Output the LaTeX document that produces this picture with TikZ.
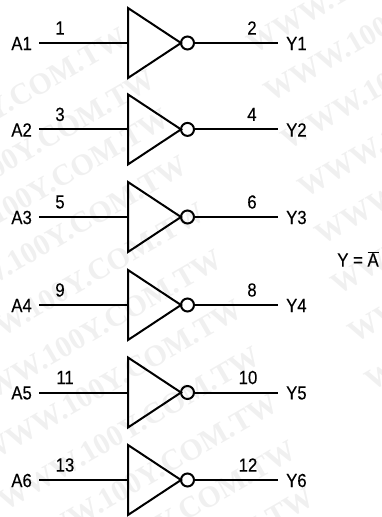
\documentclass[tikz,border=0pt]{standalone}
\usepackage{fontspec}
\setmainfont{Liberation Sans}[FakeBold=0.25]
\newfontfamily\wmfont{Liberation Serif Bold}
\tikzset{
  wire/.style={line width=2pt},
  gatebody/.style={line width=2pt,line join=miter},
  bubble/.style={circle,draw,line width=2pt,minimum size=13pt,inner sep=0pt},
  lab/.style={inner sep=0pt,xscale=.88,font=\fontsize{19}{19}\selectfont},
  wm/.style={inner sep=0pt,rotate=30,text=black!6,font=\fontsize{30}{30}\selectfont\wmfont}
}
\begin{document}
\begin{tikzpicture}[x=1pt,y=-1pt]
\useasboundingbox (0,0) rectangle (382,517);
\foreach \wx/\wy in {125/35,153/77,167/116,185/163,203/210,220/257,240/307,258/354,276/401,294/448,312/495}
  \node[wm,anchor=east] at (\wx,\wy) {WWW.100Y.COM.TW};
\foreach \wx/\wy in {249/46,266/94,283/142,300/190,317/237,333/287,350/335,367/383}
  \node[wm,anchor=west] at (\wx,\wy) {WWW.100Y.COM.TW};
\foreach \n/\pa/\xa/\pb/\xb/\yy in {1/1/60/2/252/43,2/3/60/4/252/129.4,3/5/60/6/252/217,4/9/60/8/252/305,5/11/65/10/248/392.5,6/13/65/12/248/480}{
  \coordinate (c\n) at (128,\yy);
  \coordinate (t\n) at (128,\yy-35);
  \coordinate (b\n) at (128,\yy+35);
  \coordinate (tip\n) at (181,\yy);
  \node[bubble] (o\n) at (187.5,\yy) {};
  \coordinate (s\n) at (39,\yy);
  \coordinate (e\n) at (278,\yy);
  \node[lab,anchor=east] (A\n) at (32,\yy+0.5) {A\n};
  \node[lab,anchor=west] (Y\n) at (286,\yy+0.5) {Y\n};
  \node[lab] (pi\n) at (\xa,\yy-15) {\pa};
  \node[lab] (po\n) at (\xb,\yy-15) {\pb};
  \draw[gatebody] (t\n) -- (tip\n) -- (b\n) -- cycle;
  \draw[wire] (s\n) -- (c\n);
  \draw[wire] (o\n) -- (e\n);
}
\node[lab] (eq) at (358,259) {Y = $\overline{\hbox{A}}$};
\end{tikzpicture}
\end{document}
